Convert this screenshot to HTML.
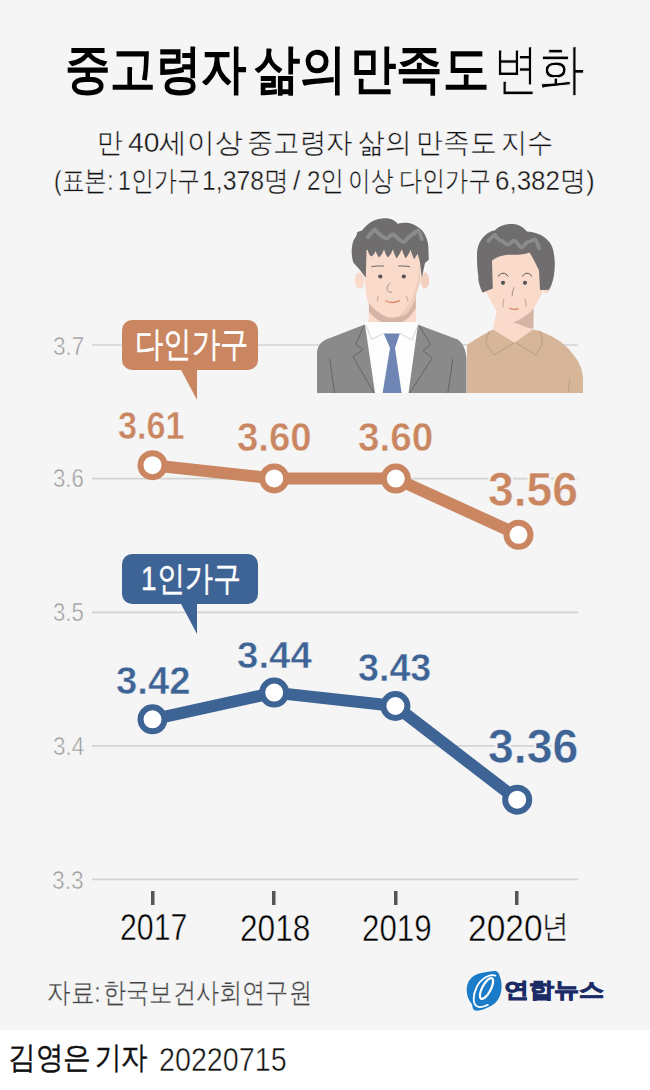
<!DOCTYPE html>
<html><head><meta charset="utf-8">
<style>
html,body{margin:0;padding:0;}
body{width:650px;height:1090px;position:relative;overflow:hidden;background:#fff;font-family:"Liberation Sans",sans-serif;}
#bg{position:absolute;left:0;top:0;width:650px;height:1030px;background:#f5f5f5;}
.t{position:absolute;white-space:nowrap;line-height:1;transform-origin:0 0;}
svg{position:absolute;left:0;top:0;}
</style></head><body>
<div id="bg"></div>
<svg width="650" height="1090" viewBox="0 0 650 1090">
  <!-- gridlines -->
  <g stroke="#d3d3d3" stroke-width="1.7">
    <line x1="92" y1="345" x2="578" y2="345"/>
    <line x1="92" y1="478.6" x2="578" y2="478.6"/>
    <line x1="92" y1="612.3" x2="578" y2="612.3"/>
    <line x1="92" y1="745.8" x2="578" y2="745.8"/>
    <line x1="92" y1="879.4" x2="578" y2="879.4"/>
  </g>
  <!-- ticks -->
  <g fill="#555">
    <rect x="151" y="891" width="3.5" height="14"/>
    <rect x="272" y="891" width="3.5" height="14"/>
    <rect x="394" y="891" width="3.5" height="14"/>
    <rect x="515" y="891" width="3.5" height="14"/>
  </g>
  <!-- people -->
  <g id="people">
    <!-- woman (behind) -->
    <g>
      <ellipse cx="484" cy="287" rx="3.8" ry="6" fill="#f9dacb"/>
      <ellipse cx="546.5" cy="287" rx="3.3" ry="6" fill="#f5d3c5"/>
      <path d="M499,300 L492.8,329.5 L514.3,344 L533,329.5 L533.7,300Z" fill="#f9dacb"/>
      <path d="M496,306 C503,317 508,322.6 513,322.6 C520,324 526,328 531.6,328.5 L533.4,328.5 L533.7,304Z" fill="#d6b4a5"/>
      <path d="M467,393 L467,345 C474,340 482,335 490,331 L493,329.5 L514.3,342.7 L533,329.5 L540,331 C552,336 564,342 572,353 C578,360 583,368 583,380 L583,393Z" fill="#d6b598"/>
      <path d="M490,331 C487,336 486,340 486,344 L494,355 L514.3,342.7 M540,331 C542,336 542.5,340 542,344 L536,355 L516,342.7" fill="none" stroke="#b8987b" stroke-width="0.9"/>
      <path d="M570,379 L568,393" stroke="#b8987b" stroke-width="0.9"/>
      <path d="M484,250 L483.8,283.8 C486,292 488,297 490.8,300.5 C494,307 496,311 499,314.3 C504,319 508,322.6 513,322.6 C520,320 527,315 531,311.5 C535,307 538,301 540.6,296.3 C543,292 545,289 545.5,286.6 L545,250Z" fill="#f9dacb"/>
      <path d="M477,253.8 C477,242 485,232 495,230.2 C499,226 505,224 511.5,224 C518,224 523,226.5 526.8,231.6 C540,232 551,240 553,249.6 C555,258 555,265 554.5,270.4 C554,278 552,285 549,289.8 L540,290 L539,270.4 C536,264 533,258 531,255 L529.5,252.4 C520,256 510,254 504.6,255.2 C498,256.5 494,258.5 492,260.7 L492.8,288.4 L482.5,292.5 C479,285 478,280 478.3,276 C477,268 477,260 477,253.8Z" fill="#6f6d6d"/>
      <path d="M488.5,241 C491,238 493,236 495,234.8 C497,238 499,240.5 501,240.6 C504,240.8 505,244.5 507.4,244.6 C510,244.7 512,240.6 514.3,240.6 C517,240.6 519,247.3 521.2,247.3 C524,247.3 526,242 528,242 C531,241.5 533,239.5 535,239.4 C537,242 538.5,245 539.2,248.5" fill="none" stroke="#8b8b8b" stroke-width="3.8" stroke-linecap="round" stroke-linejoin="round"/>
      <path d="M498.4,276.5 C500,272.3 506,272 508,276.5 M522.6,276.5 C524,272.3 530,272 531.6,276.5" fill="none" stroke="#555" stroke-width="1"/>
      <circle cx="503" cy="282.8" r="2.1" fill="#555"/>
      <circle cx="525" cy="282.8" r="2.1" fill="#555"/>
      <path d="M514.3,287.3 C513,290 512,293 512.2,296.3" fill="none" stroke="#a08277" stroke-width="0.9"/>
      <path d="M509.5,308 C512,309.6 516,309.6 518.5,308.3" fill="none" stroke="#d98a6e" stroke-width="1.3"/>
      <path d="M504,299 C503,302 503,305 503.2,307.4 M524.7,299 C526,302 526,304 526,306.7" fill="none" stroke="#b59585" stroke-width="0.8"/>
    </g>
    <!-- man (front) -->
    <g>
      <ellipse cx="359.5" cy="280.5" rx="4.8" ry="8" fill="#f9dacb"/>
      <ellipse cx="425" cy="280.5" rx="4.3" ry="8" fill="#f3cfc0"/>
      <path d="M369,296 L368.5,330 L416,330 L415.8,296Z" fill="#f9dacb"/>
      <path d="M369,298 L369,312 C376,320 384,324.7 392,324.7 C402,324.7 410,318 415.8,308 L415.8,296Z" fill="#d6b4a5"/>
      <path d="M365,243 L365.2,283.8 C365.5,292 366.5,298 368,301.8 C372,308 378,312 381.8,314.3 C385,316.5 388,317.8 391.5,317.8 C397,317.8 403,315 408,311.5 C412,307 414,302 415,297.7 C416.3,292 418.5,287 420,282 L420.5,243Z" fill="#f9dacb"/>
      <path d="M420.5,262 C418,285 412,305 398,317 C404,316 408,313 409,311 C413,306 414.5,301 415.5,297 C417,291 419,286 420.5,281Z" fill="#f1cdbe"/>
      <path d="M362,230.5 C368,222.5 376,218.3 385.2,218.3 C391,218.3 395,220.5 397.6,223.8 C402,222.5 406,222.6 410,223.2 C416,225 420,228 422.5,230.8 C426,236 428,241 428.3,246 L428.8,259.8 L425,263 L421.8,277.8 L418.5,250 L366.5,250 L365.8,277.8 L360,270 L353.3,262.6 C351.5,256 351.5,251 351.9,247.4 C352.5,242 354,239 356,236.5 L357.5,232Z" fill="#6f6d6d"/>
      <path d="M367.6,249 L376.0,249 C375.8,252.5 373.2,255.5 371.0,256.5 C369.7,255 367.9,252.5 367.6,249Z M375.4,249 L383.8,249 C383.6,252.5 381.0,255.5 378.8,257.5 C377.5,255 375.7,252.5 375.4,249Z M384.2,249 L392.6,249 C392.4,252.5 389.8,255.5 387.6,257.5 C386.3,255 384.5,252.5 384.2,249Z M393.0,249 L401.4,249 C401.2,252.5 398.6,255.5 396.4,258.5 C395.1,255 393.3,252.5 393.0,249Z M402.1,249 L410.5,249 C410.3,252.5 407.7,255.5 405.5,258.5 C404.2,255 402.4,252.5 402.1,249Z M410.6,249 L419.0,249 C418.8,252.5 416.2,255.5 414.0,259.6 C412.7,255 410.9,252.5 410.6,249Z M416,249 L419,249 L420,262Z" fill="#6f6d6d"/>
      <path d="M368,237 C371,233 373,230.5 375,229.5 C378,233 382,238 386.5,238.4 C389,238.5 390,234.5 392.5,234.5 C396,234.5 399,241.5 403,241.8 C406,242 407,238 409,237 C412,235 415,231.5 418.4,230.5 C420,233 421,236 421.8,239" fill="none" stroke="#8b8b8b" stroke-width="4" stroke-linecap="round" stroke-linejoin="round"/>
      <path d="M371.3,266.8 C375,266 380,265.8 383.8,266.1 M398.3,266.1 C402,265.8 406,266 410,266.8" fill="none" stroke="#666" stroke-width="1"/>
      <circle cx="380.3" cy="276.5" r="2.1" fill="#555"/>
      <circle cx="403.8" cy="276.5" r="2.1" fill="#555"/>
      <path d="M390.5,283 C387,285 386,289 388,291 C389,292.5 391,292.5 392,292" fill="none" stroke="#a88a7e" stroke-width="0.9"/>
      <path d="M385.3,300.5 C389,302.8 395,302.8 399.8,300.5" fill="none" stroke="#df8a6a" stroke-width="1.4"/>
      <path d="M378.4,295.6 C377.5,298 377.5,300 377.7,301.8 M406,295.6 C407.5,298 408,300 408,301.8" fill="none" stroke="#b89888" stroke-width="0.8"/>
      <!-- suit -->
      <path d="M317,393 L317,352 C318,344 323,340 330,338 L364,324.8 L418.3,324.8 L457.7,339.5 C463,343 466,350 466.5,359 L466.5,393Z" fill="#8a8a8a"/>
      <path d="M364.6,322 L418.3,322 L408.5,393 L375,393Z" fill="#fdfdfd"/>
      <path d="M364,326 L355.5,344.5 L363,349.4 L353,356.8 L374,393 M419.5,326 L430.6,344.5 L423,350.6 L432.3,358 L409.7,393 M329.7,359 L334.6,393 M452.8,359 L447.8,393" fill="none" stroke="#606060" stroke-width="0.9"/>
      <path d="M366,325 L371.5,339.5 L383.8,333.4 M418,325 L412,340 L399.8,333.4" fill="none" stroke="#d0d0d0" stroke-width="0.9"/>
      <path d="M383.8,333.4 L399.8,333.4 L395,348 L401.6,393 L382.6,393 L390,348Z" fill="#6f86b5"/>
    </g>
  </g>
  <!-- tooltips -->
  <rect x="122" y="320" width="136" height="50" rx="10" fill="#c98661"/>
  <path d="M180,368 L197,368 L197,400Z" fill="#c98661"/>
  <rect x="122" y="554" width="136" height="50" rx="10" fill="#3e6395"/>
  <path d="M180,602 L197,602 L197,634Z" fill="#3e6395"/>
  <!-- lines -->
  <g fill="none" stroke-width="12" stroke-linejoin="round">
    <polyline points="152.5,465.2 274.2,478.4 395.8,478.6 518.5,534.8" stroke="#c98661"/>
    <polyline points="152.5,719.3 274.2,692.6 395.4,706 517.2,799.7" stroke="#3e6395"/>
  </g>
  <g fill="#fff" stroke-width="6">
    <g stroke="#c98661">
      <circle cx="152.5" cy="465.2" r="12"/><circle cx="274.2" cy="478.4" r="12"/><circle cx="395.8" cy="478.6" r="12"/><circle cx="518.5" cy="534.8" r="12"/>
    </g>
    <g stroke="#3e6395">
      <circle cx="152.5" cy="719.3" r="12"/><circle cx="274.2" cy="692.6" r="12"/><circle cx="395.4" cy="706" r="12"/><circle cx="517.2" cy="799.7" r="12"/>
    </g>
  </g>
  <!-- logo emblem -->
  <g>
    <path d="M466.7,990 C466.7,981 472,975.5 479,973.5 C484,972.3 489,971.5 493.8,971 C497.5,971 499,973 499.5,975.5 C501.3,980 501.8,984 501.5,988 C501.2,994 499,1000 494,1004 C489,1007.5 482,1010.5 477,1010.7 C473.5,1010.7 472.3,1008 472.2,1004.5 C468.5,1000.5 466.7,995.5 466.7,990Z" fill="#1a7cc8"/>
    <ellipse cx="486.5" cy="988.5" rx="4.3" ry="11.5" transform="rotate(28 486.5 988.5)" fill="none" stroke="#fff" stroke-width="2.2"/>
    <path d="M496,976 C491,973 481,978 476.5,987.5 C473,995 472.5,1003 476.5,1006 C480,1008 485,1006.5 488.5,1004.5" fill="none" stroke="#fff" stroke-width="1.8"/>
  </g>
</svg>
<div class="t" id="t1w1" style="left:64.93px;top:42.69px;font-size:52.94px;font-weight:bold;color:#000;transform:scaleX(0.8582);">중고령자</div>
<div class="t" id="t1w2" style="left:253.94px;top:42.69px;font-size:52.94px;font-weight:bold;color:#000;transform:scaleX(0.8729);">삶의</div>
<div class="t" id="t1w3" style="left:349.80px;top:42.69px;font-size:52.94px;font-weight:bold;color:#000;transform:scaleX(0.8743);">만족도</div>
<div class="t" id="title2" style="left:493.12px;top:42.48px;font-size:55.46px;font-weight:normal;color:#000;transform:scaleX(0.8328);-webkit-text-stroke:1px #f5f5f5;">변화</div>
<div class="t" id="s1w1" style="left:97.04px;top:127.67px;font-size:28.39px;font-weight:normal;color:#111;transform:scaleX(0.9257);-webkit-text-stroke:0.4px #f5f5f5;">만</div>
<div class="t" id="s1w2" style="left:128.01px;top:127.67px;font-size:28.39px;font-weight:normal;color:#111;transform:scaleX(0.9954);-webkit-text-stroke:0.4px #f5f5f5;">40세이상</div>
<div class="t" id="s1w3" style="left:246.99px;top:127.67px;font-size:28.39px;font-weight:normal;color:#111;transform:scaleX(0.9449);-webkit-text-stroke:0.4px #f5f5f5;">중고령자</div>
<div class="t" id="s1w4" style="left:357.94px;top:127.67px;font-size:28.39px;font-weight:normal;color:#111;transform:scaleX(0.9555);-webkit-text-stroke:0.4px #f5f5f5;">삶의</div>
<div class="t" id="s1w5" style="left:415.95px;top:127.67px;font-size:28.39px;font-weight:normal;color:#111;transform:scaleX(0.9575);-webkit-text-stroke:0.4px #f5f5f5;">만족도</div>
<div class="t" id="s1w6" style="left:501.02px;top:127.67px;font-size:28.39px;font-weight:normal;color:#111;transform:scaleX(0.9344);-webkit-text-stroke:0.4px #f5f5f5;">지수</div>
<div class="t" id="s2w1" style="left:54.01px;top:166.80px;font-size:28.00px;font-weight:normal;color:#111;transform:scaleX(0.8138);-webkit-text-stroke:0.4px #f5f5f5;">(표본:</div>
<div class="t" id="s2w2" style="left:117.99px;top:166.80px;font-size:28.00px;font-weight:normal;color:#111;transform:scaleX(0.8227);-webkit-text-stroke:0.4px #f5f5f5;">1인가구</div>
<div class="t" id="s2w3" style="left:201.92px;top:166.80px;font-size:28.00px;font-weight:normal;color:#111;transform:scaleX(0.8860);-webkit-text-stroke:0.4px #f5f5f5;">1,378명</div>
<div class="t" id="s2w4" style="left:292.99px;top:166.80px;font-size:28.00px;font-weight:normal;color:#111;transform:scaleX(0.9464);-webkit-text-stroke:0.4px #f5f5f5;">/</div>
<div class="t" id="s2w5" style="left:306.97px;top:166.80px;font-size:28.00px;font-weight:normal;color:#111;transform:scaleX(0.8601);-webkit-text-stroke:0.4px #f5f5f5;">2인</div>
<div class="t" id="s2w6" style="left:348.08px;top:166.80px;font-size:28.00px;font-weight:normal;color:#111;transform:scaleX(0.8078);-webkit-text-stroke:0.4px #f5f5f5;">이상</div>
<div class="t" id="s2w7" style="left:399.02px;top:166.80px;font-size:28.00px;font-weight:normal;color:#111;transform:scaleX(0.8273);-webkit-text-stroke:0.4px #f5f5f5;">다인가구</div>
<div class="t" id="s2w8" style="left:494.85px;top:166.80px;font-size:28.00px;font-weight:normal;color:#111;transform:scaleX(0.9276);-webkit-text-stroke:0.4px #f5f5f5;">6,382명)</div>
<div class="t" id="y37" style="left:53.45px;top:333.66px;font-size:25.13px;font-weight:normal;color:#999;transform:scaleX(0.8976);-webkit-text-stroke:0.5px #f5f5f5;">3.7</div>
<div class="t" id="y36" style="left:53.48px;top:466.43px;font-size:25.13px;font-weight:normal;color:#999;transform:scaleX(0.8808);-webkit-text-stroke:0.5px #f5f5f5;">3.6</div>
<div class="t" id="y35" style="left:53.48px;top:600.23px;font-size:25.13px;font-weight:normal;color:#999;transform:scaleX(0.8808);-webkit-text-stroke:0.5px #f5f5f5;">3.5</div>
<div class="t" id="y34" style="left:52.96px;top:734.01px;font-size:25.13px;font-weight:normal;color:#999;transform:scaleX(0.8938);-webkit-text-stroke:0.5px #f5f5f5;">3.4</div>
<div class="t" id="y33" style="left:52.12px;top:867.86px;font-size:25.13px;font-weight:normal;color:#999;transform:scaleX(0.9054);-webkit-text-stroke:0.5px #f5f5f5;">3.3</div>
<div class="t" id="tip1" style="left:135.44px;top:326.80px;font-size:34.90px;font-weight:normal;color:#fff;transform:scaleX(0.8115);-webkit-text-stroke:0.5px #fff;">다인가구</div>
<div class="t" id="tip2" style="left:140.63px;top:561.55px;font-size:33.75px;font-weight:normal;color:#fff;transform:scaleX(0.8264);-webkit-text-stroke:0.5px #fff;">1인가구</div>
<div class="t" id="v361" style="left:118.31px;top:405.85px;font-size:39.67px;font-weight:bold;color:#c98661;transform:scaleX(0.8633);-webkit-text-stroke:0.5px #f5f5f5;text-shadow:2px 0 #f5f5f5,-2px 0 #f5f5f5,0 2px #f5f5f5,0 -2px #f5f5f5,1.5px 1.5px #f5f5f5,-1.5px 1.5px #f5f5f5,1.5px -1.5px #f5f5f5,-1.5px -1.5px #f5f5f5;">3.61</div>
<div class="t" id="v360a" style="left:237.06px;top:418.03px;font-size:39.78px;font-weight:bold;color:#c98661;transform:scaleX(0.9654);-webkit-text-stroke:0.5px #f5f5f5;text-shadow:2px 0 #f5f5f5,-2px 0 #f5f5f5,0 2px #f5f5f5,0 -2px #f5f5f5,1.5px 1.5px #f5f5f5,-1.5px 1.5px #f5f5f5,1.5px -1.5px #f5f5f5,-1.5px -1.5px #f5f5f5;">3.60</div>
<div class="t" id="v360b" style="left:358.17px;top:418.03px;font-size:39.78px;font-weight:bold;color:#c98661;transform:scaleX(0.9736);-webkit-text-stroke:0.5px #f5f5f5;text-shadow:2px 0 #f5f5f5,-2px 0 #f5f5f5,0 2px #f5f5f5,0 -2px #f5f5f5,1.5px 1.5px #f5f5f5,-1.5px 1.5px #f5f5f5,1.5px -1.5px #f5f5f5,-1.5px -1.5px #f5f5f5;">3.60</div>
<div class="t" id="v356" style="left:487.99px;top:464.97px;font-size:48.07px;font-weight:bold;color:#c98661;transform:scaleX(0.9607);-webkit-text-stroke:0.5px #f5f5f5;text-shadow:2px 0 #f5f5f5,-2px 0 #f5f5f5,0 2px #f5f5f5,0 -2px #f5f5f5,1.5px 1.5px #f5f5f5,-1.5px 1.5px #f5f5f5,1.5px -1.5px #f5f5f5,-1.5px -1.5px #f5f5f5;">3.56</div>
<div class="t" id="v342" style="left:115.84px;top:661.60px;font-size:38.72px;font-weight:bold;color:#3e6395;transform:scaleX(0.9877);-webkit-text-stroke:0.5px #f5f5f5;text-shadow:2px 0 #f5f5f5,-2px 0 #f5f5f5,0 2px #f5f5f5,0 -2px #f5f5f5,1.5px 1.5px #f5f5f5,-1.5px 1.5px #f5f5f5,1.5px -1.5px #f5f5f5,-1.5px -1.5px #f5f5f5;">3.42</div>
<div class="t" id="v344" style="left:236.53px;top:638.38px;font-size:36.63px;font-weight:bold;color:#3e6395;transform:scaleX(1.0506);-webkit-text-stroke:0.5px #f5f5f5;text-shadow:2px 0 #f5f5f5,-2px 0 #f5f5f5,0 2px #f5f5f5,0 -2px #f5f5f5,1.5px 1.5px #f5f5f5,-1.5px 1.5px #f5f5f5,1.5px -1.5px #f5f5f5,-1.5px -1.5px #f5f5f5;">3.44</div>
<div class="t" id="v343" style="left:358.48px;top:648.08px;font-size:39.38px;font-weight:bold;color:#3e6395;transform:scaleX(0.9563);-webkit-text-stroke:0.5px #f5f5f5;text-shadow:2px 0 #f5f5f5,-2px 0 #f5f5f5,0 2px #f5f5f5,0 -2px #f5f5f5,1.5px 1.5px #f5f5f5,-1.5px 1.5px #f5f5f5,1.5px -1.5px #f5f5f5,-1.5px -1.5px #f5f5f5;">3.43</div>
<div class="t" id="v336" style="left:487.98px;top:722.72px;font-size:47.50px;font-weight:bold;color:#3e6395;transform:scaleX(0.9759);-webkit-text-stroke:0.5px #f5f5f5;text-shadow:2px 0 #f5f5f5,-2px 0 #f5f5f5,0 2px #f5f5f5,0 -2px #f5f5f5,1.5px 1.5px #f5f5f5,-1.5px 1.5px #f5f5f5,1.5px -1.5px #f5f5f5,-1.5px -1.5px #f5f5f5;">3.36</div>
<div class="t" id="y2017" style="left:120.04px;top:910.36px;font-size:36.48px;font-weight:normal;color:#000;transform:scaleX(0.8302);-webkit-text-stroke:0.5px #f5f5f5;">2017</div>
<div class="t" id="y2018" style="left:239.55px;top:911.08px;font-size:36.04px;font-weight:normal;color:#000;transform:scaleX(0.8780);-webkit-text-stroke:0.5px #f5f5f5;">2018</div>
<div class="t" id="y2019" style="left:362.13px;top:911.08px;font-size:36.04px;font-weight:normal;color:#000;transform:scaleX(0.8686);-webkit-text-stroke:0.5px #f5f5f5;">2019</div>
<div class="t" id="y2020" style="left:467.69px;top:909.65px;font-size:37.21px;font-weight:normal;color:#000;transform:scaleX(0.9008);-webkit-text-stroke:0.5px #f5f5f5;">2020</div>
<div class="t" id="y2020k" style="left:542.29px;top:910.29px;font-size:32.07px;font-weight:normal;color:#111;transform:scaleX(0.8342);-webkit-text-stroke:0.3px #f5f5f5;">년</div>
<div class="t" id="srw1" style="left:47.01px;top:979.20px;font-size:27.56px;font-weight:normal;color:#444;transform:scaleX(0.8446);-webkit-text-stroke:0.3px #f5f5f5;">자료:</div>
<div class="t" id="srw2" style="left:103.05px;top:979.20px;font-size:27.56px;font-weight:normal;color:#444;transform:scaleX(0.8283);-webkit-text-stroke:0.3px #f5f5f5;">한국보건사회연구원</div>
<div class="t" id="logo" style="left:504.30px;top:980.00px;font-size:21.30px;font-weight:bold;color:#1a2b66;transform:scaleX(1.1900);-webkit-text-stroke:0.9px #1a2b66;">연합뉴스</div>
<div class="t" id="rpw1" style="left:7.89px;top:1042.24px;font-size:30.58px;font-weight:normal;color:#111;transform:scaleX(0.8934);-webkit-text-stroke:0.35px #111;">김영은</div>
<div class="t" id="rpw2" style="left:94.97px;top:1042.24px;font-size:30.58px;font-weight:normal;color:#111;transform:scaleX(0.8547);-webkit-text-stroke:0.35px #111;">기자</div>
<div class="t" id="date" style="left:159.33px;top:1043.96px;font-size:32.81px;font-weight:normal;color:#111;transform:scaleX(0.8749);-webkit-text-stroke:0.5px #fff;">20220715</div>
</body></html>
